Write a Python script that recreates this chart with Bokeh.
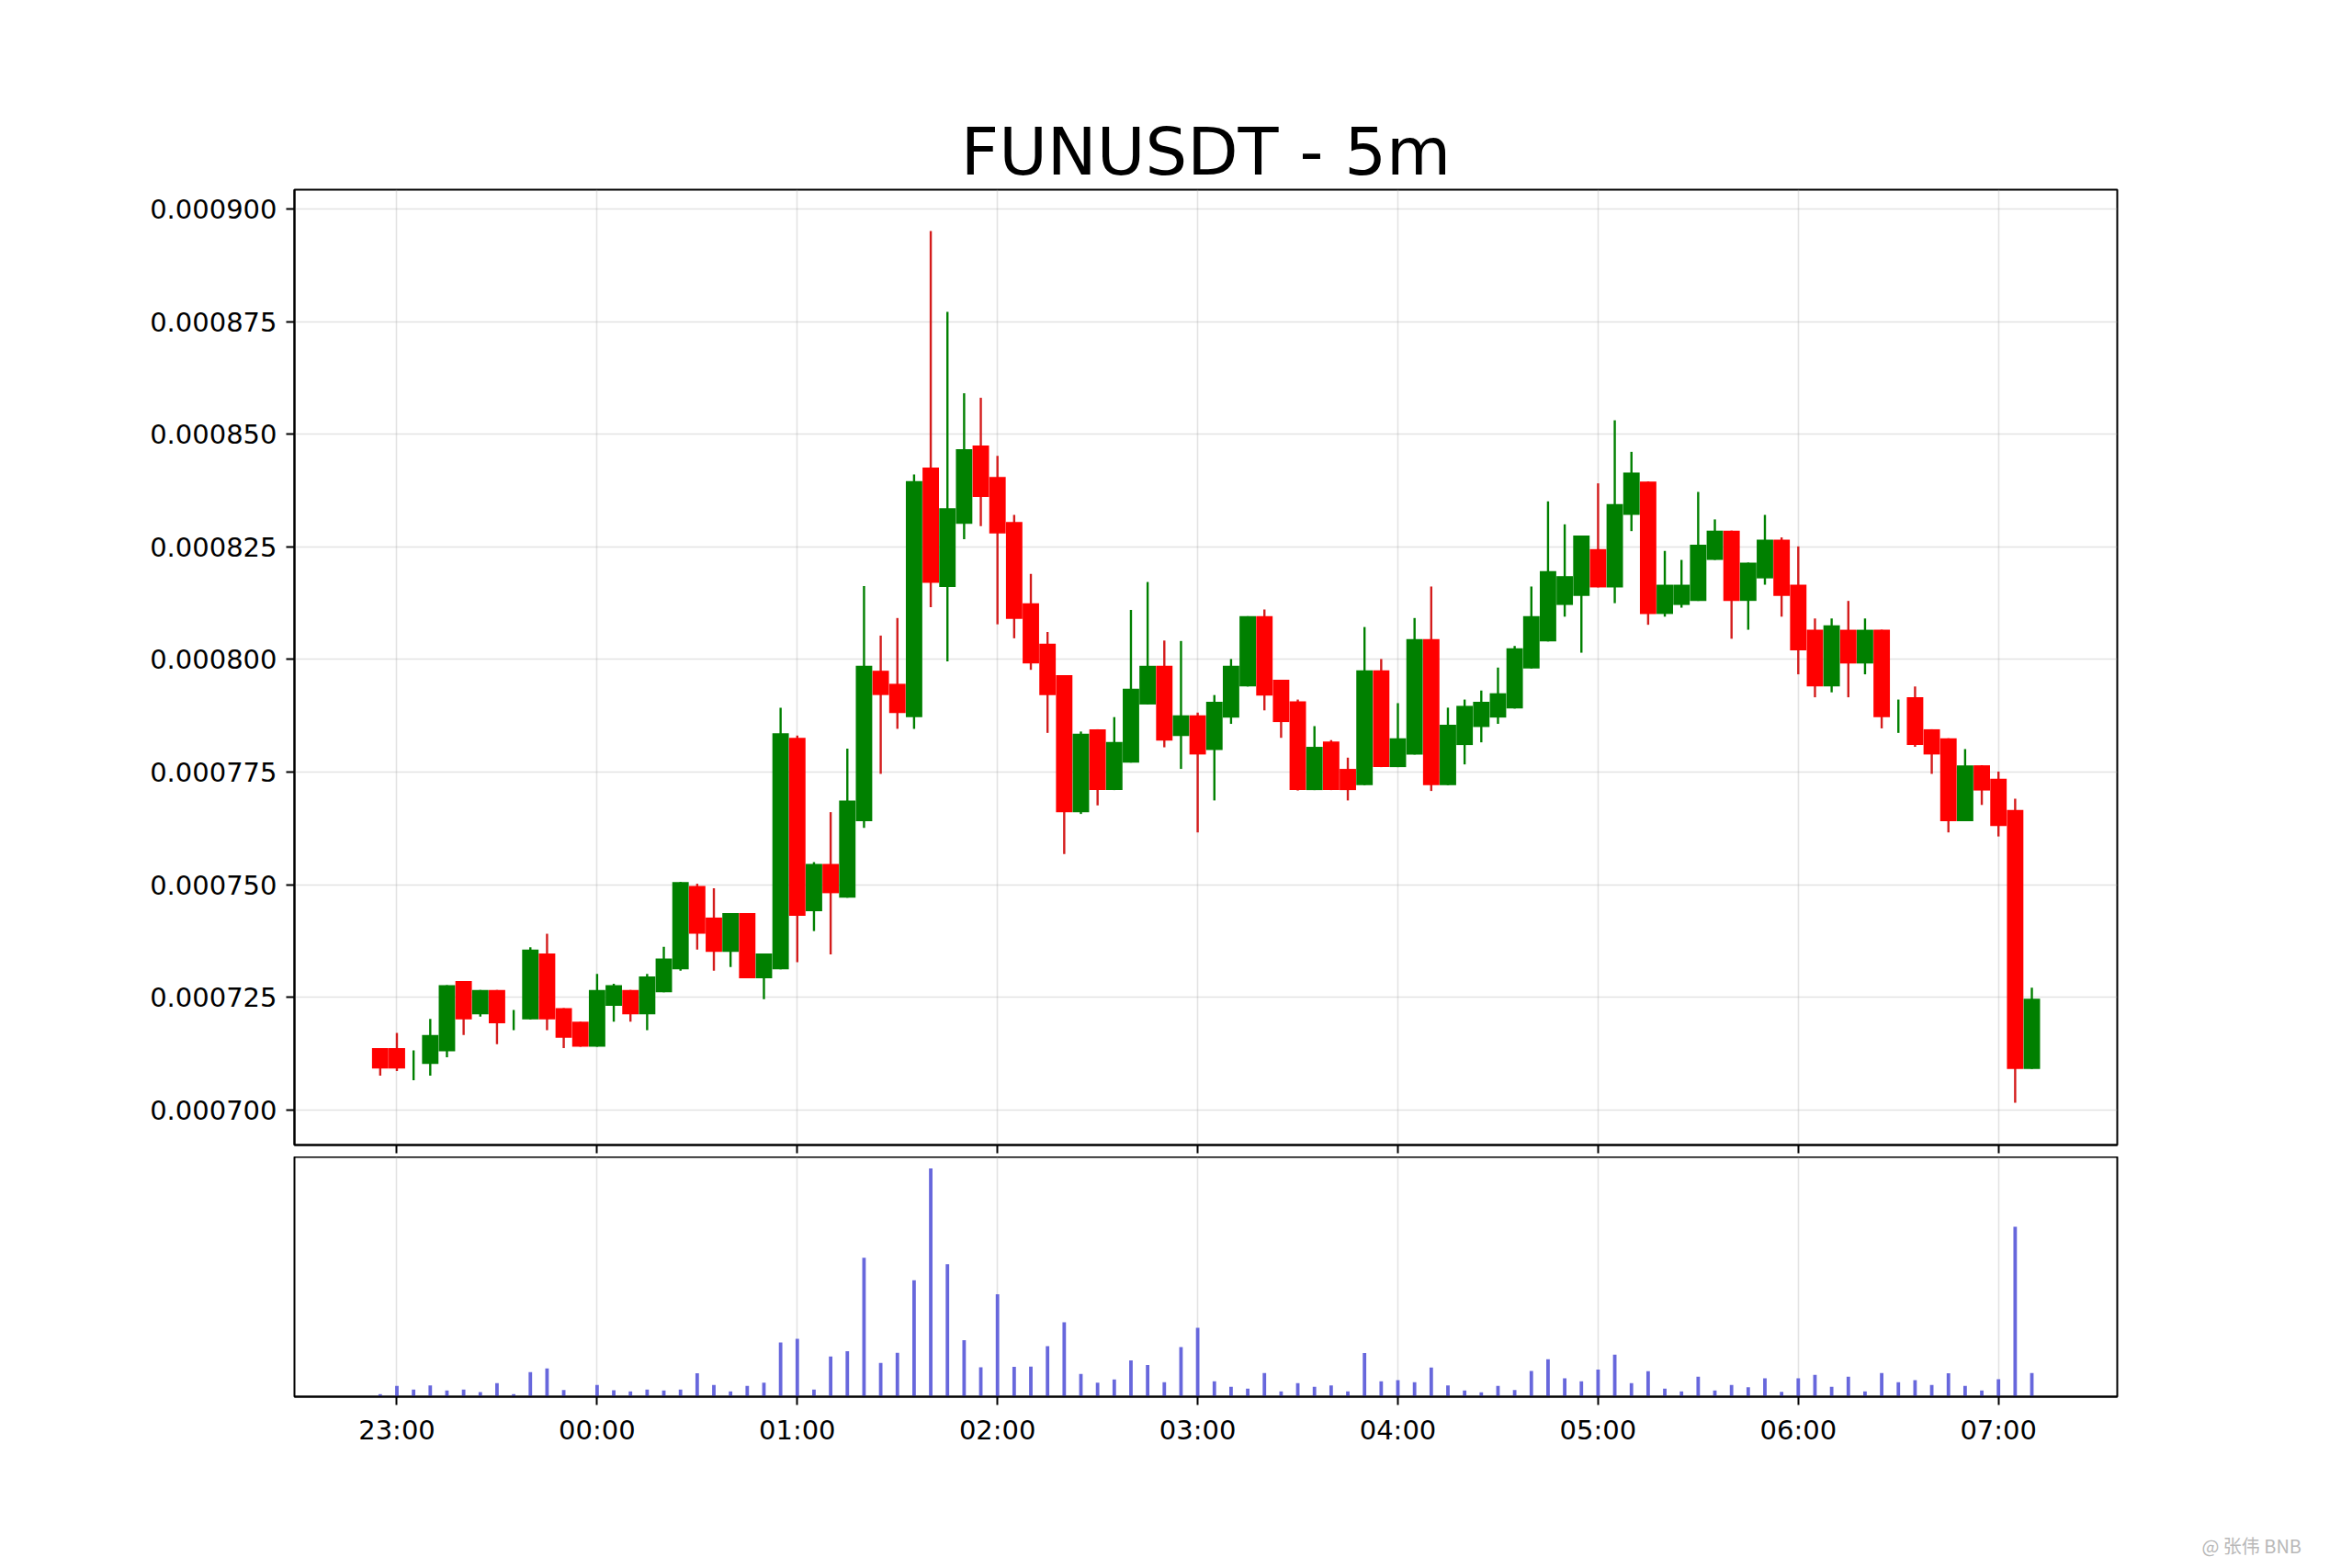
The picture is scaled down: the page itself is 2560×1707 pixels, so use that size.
import pandas as pd
from bokeh.plotting import figure
from bokeh.layouts import column
from bokeh.models import (Range1d, FixedTicker, PrintfTickFormatter,
                          DatetimeTickFormatter, ColumnDataSource, Div)
from bokeh.embed import file_html
from bokeh.resources import INLINE

# ---------------- data ----------------
title_text = "FUNUSDT - 5m"
first_candle = "2024-01-01 22:55"
hour_labels = ["23:00", "00:00", "01:00", "02:00", "03:00",
               "04:00", "05:00", "06:00", "07:00"]
price_ticks = [0.000700, 0.000725, 0.000750, 0.000775, 0.000800,
               0.000825, 0.000850, 0.000875, 0.000900]

opens = [0.0007137, 0.0007137, 0.0007095, 0.0007102, 0.0007130, 0.0007286, 0.0007212, 0.0007266, 0.0007200, 0.0007201,
         0.0007347, 0.0007226, 0.0007196, 0.0007140, 0.0007231, 0.0007266, 0.0007212, 0.0007261, 0.0007312, 0.0007497,
         0.0007427, 0.0007351, 0.0007437, 0.0007292, 0.0007312, 0.0007826, 0.0007441, 0.0007546, 0.0007471, 0.0007641,
         0.0007975, 0.0007946, 0.0007872, 0.0008426, 0.0008161, 0.0008301, 0.0008475, 0.0008405, 0.0008305, 0.0008125,
         0.0008035, 0.0007965, 0.0007661, 0.0007845, 0.0007710, 0.0007771, 0.0007900, 0.0007986, 0.0007830, 0.0007876,
         0.0007799, 0.0007871, 0.0007940, 0.0008096, 0.0007955, 0.0007907, 0.0007710, 0.0007818, 0.0007757, 0.0007721,
         0.0007976, 0.0007761, 0.0007789, 0.0008045, 0.0007721, 0.0007810, 0.0007850, 0.0007871, 0.0007891, 0.0007980,
         0.0008040, 0.0008121, 0.0008141, 0.0008245, 0.0008160, 0.0008321, 0.0008395, 0.0008101, 0.0008121, 0.0008130,
         0.0008221, 0.0008286, 0.0008130, 0.0008180, 0.0008266, 0.0008166, 0.0008066, 0.0007940, 0.0008066, 0.0007991,
         0.0008066, 0.0007874, 0.0007916, 0.0007845, 0.0007825, 0.0007641, 0.0007765, 0.0007735, 0.0007666, 0.0007091]
highs = [0.0007137, 0.0007171, 0.0007132, 0.0007202, 0.0007277, 0.0007286, 0.0007266, 0.0007266, 0.0007222, 0.0007361,
         0.0007391, 0.0007226, 0.0007196, 0.0007302, 0.0007280, 0.0007266, 0.0007302, 0.0007362, 0.0007506, 0.0007502,
         0.0007492, 0.0007437, 0.0007437, 0.0007347, 0.0007893, 0.0007831, 0.0007550, 0.0007661, 0.0007802, 0.0008163,
         0.0008053, 0.0008092, 0.0008411, 0.0008951, 0.0008772, 0.0008591, 0.0008581, 0.0008452, 0.0008321, 0.0008190,
         0.0008061, 0.0007965, 0.0007840, 0.0007845, 0.0007872, 0.0008110, 0.0008172, 0.0008042, 0.0008041, 0.0007882,
         0.0007921, 0.0008001, 0.0008096, 0.0008111, 0.0007955, 0.0007911, 0.0007852, 0.0007821, 0.0007782, 0.0008072,
         0.0008001, 0.0007903, 0.0008092, 0.0008162, 0.0007893, 0.0007911, 0.0007931, 0.0007982, 0.0008030, 0.0008162,
         0.0008351, 0.0008300, 0.0008275, 0.0008391, 0.0008531, 0.0008461, 0.0008395, 0.0008241, 0.0008221, 0.0008372,
         0.0008311, 0.0008286, 0.0008215, 0.0008321, 0.0008271, 0.0008251, 0.0008091, 0.0008091, 0.0008130, 0.0008091,
         0.0008066, 0.0007911, 0.0007940, 0.0007845, 0.0007825, 0.0007801, 0.0007765, 0.0007751, 0.0007691, 0.0007271]
lows = [0.0007076, 0.0007086, 0.0007066, 0.0007076, 0.0007117, 0.0007166, 0.0007207, 0.0007146, 0.0007177, 0.0007201,
        0.0007177, 0.0007137, 0.0007140, 0.0007140, 0.0007196, 0.0007196, 0.0007177, 0.0007261, 0.0007309, 0.0007356,
        0.0007309, 0.0007317, 0.0007292, 0.0007246, 0.0007312, 0.0007328, 0.0007397, 0.0007345, 0.0007471, 0.0007626,
        0.0007746, 0.0007846, 0.0007846, 0.0008116, 0.0007996, 0.0008267, 0.0008296, 0.0008078, 0.0008047, 0.0007977,
        0.0007837, 0.0007568, 0.0007657, 0.0007676, 0.0007710, 0.0007771, 0.0007900, 0.0007805, 0.0007757, 0.0007616,
        0.0007687, 0.0007857, 0.0007940, 0.0007887, 0.0007826, 0.0007709, 0.0007710, 0.0007710, 0.0007687, 0.0007721,
        0.0007761, 0.0007761, 0.0007789, 0.0007708, 0.0007721, 0.0007767, 0.0007816, 0.0007857, 0.0007891, 0.0007980,
        0.0008040, 0.0008095, 0.0008015, 0.0008160, 0.0008125, 0.0008285, 0.0008077, 0.0008095, 0.0008115, 0.0008130,
        0.0008221, 0.0008046, 0.0008066, 0.0008166, 0.0008095, 0.0007967, 0.0007916, 0.0007927, 0.0007916, 0.0007967,
        0.0007847, 0.0007837, 0.0007806, 0.0007746, 0.0007616, 0.0007641, 0.0007677, 0.0007607, 0.0007016, 0.0007091]
closes = [0.0007092, 0.0007092, 0.0007095, 0.0007166, 0.0007277, 0.0007201, 0.0007266, 0.0007192, 0.0007200, 0.0007356,
          0.0007201, 0.0007160, 0.0007140, 0.0007266, 0.0007277, 0.0007212, 0.0007296, 0.0007336, 0.0007506, 0.0007391,
          0.0007351, 0.0007437, 0.0007292, 0.0007347, 0.0007836, 0.0007431, 0.0007546, 0.0007481, 0.0007687, 0.0007986,
          0.0007921, 0.0007881, 0.0008396, 0.0008170, 0.0008336, 0.0008467, 0.0008361, 0.0008280, 0.0008090, 0.0007991,
          0.0007921, 0.0007661, 0.0007835, 0.0007710, 0.0007817, 0.0007935, 0.0007986, 0.0007820, 0.0007876, 0.0007789,
          0.0007906, 0.0007986, 0.0008096, 0.0007920, 0.0007861, 0.0007710, 0.0007806, 0.0007710, 0.0007710, 0.0007976,
          0.0007761, 0.0007825, 0.0008045, 0.0007721, 0.0007855, 0.0007897, 0.0007906, 0.0007925, 0.0008025, 0.0008096,
          0.0008196, 0.0008185, 0.0008275, 0.0008160, 0.0008345, 0.0008415, 0.0008101, 0.0008166, 0.0008166, 0.0008255,
          0.0008286, 0.0008130, 0.0008215, 0.0008266, 0.0008141, 0.0008020, 0.0007940, 0.0008076, 0.0007991, 0.0008066,
          0.0007872, 0.0007874, 0.0007810, 0.0007789, 0.0007641, 0.0007765, 0.0007709, 0.0007630, 0.0007091, 0.0007247]
volumes = [2.7, 11.7, 7.7, 12.3, 6.7, 7.7, 5.0, 14.7, 2.7, 26.7,
           30.7, 7.3, 0.7, 12.7, 7.0, 5.7, 7.7, 6.7, 7.7, 25.3,
           12.7, 5.7, 11.7, 15.3, 58.7, 62.7, 7.7, 43.7, 49.3, 150.7,
           36.7, 47.7, 126.3, 247.7, 143.7, 61.3, 32.0, 111.0, 32.3, 32.7,
           54.7, 80.7, 24.7, 15.3, 18.7, 39.3, 34.3, 15.7, 53.7, 74.7,
           16.7, 10.7, 8.7, 25.7, 5.7, 14.7, 10.7, 12.3, 5.7, 47.3,
           16.7, 18.0, 15.7, 31.7, 12.3, 6.7, 4.7, 11.7, 7.3, 28.0,
           40.7, 20.0, 16.7, 29.3, 45.7, 14.7, 27.7, 8.7, 5.7, 21.7,
           6.7, 12.7, 10.3, 20.0, 5.3, 20.0, 23.7, 10.7, 21.7, 5.7,
           25.7, 15.7, 18.0, 12.7, 25.3, 11.7, 6.7, 19.0, 184.3, 25.7]
watermark_text = "@ 张伟 BNB"

# ---------------- derived columns ----------------
times = pd.date_range(first_candle, periods=len(opens), freq="5min")
up_col, down_col = "#008000", "#ff0000"
body_colors = [up_col if c >= o else down_col for o, c in zip(opens, closes)]
wick_colors = [up_col if c >= o else "#d41c1c" for o, c in zip(opens, closes)]
src = ColumnDataSource(dict(
    t=times, o=opens, h=highs, l=lows, c=closes, v=volumes,
    top=[max(o, c) for o, c in zip(opens, closes)],
    bot=[min(o, c) for o, c in zip(opens, closes)],
    bc=body_colors, wc=wick_colors,
))

day0 = pd.Timestamp(first_candle).normalize()
tick_times = []
for lab in hour_labels:
    hh = int(lab[:2])
    ts = day0 + pd.Timedelta(hours=hh) if hh >= 22 else day0 + pd.Timedelta(days=1, hours=hh)
    tick_times.append(ts)
tick_ms = [ts.value / 1e6 for ts in tick_times]

step = pd.Timedelta(minutes=5)
x_start = tick_times[0] - pd.Timedelta(minutes=30.7)
x_end = tick_times[-1] + pd.Timedelta(minutes=35.6)
x_range = Range1d(x_start, x_end)

FONT = "DejaVu Sans"
FRAME_W = 1984
LEFT, RIGHT = 320, 232
TOTAL_W = LEFT + FRAME_W + RIGHT

# ---------------- price panel ----------------
p1 = figure(x_axis_type="datetime", x_range=x_range,
            y_range=Range1d(0.0006922, 0.0009043),
            frame_width=FRAME_W, frame_height=1040,
            min_border_left=LEFT, min_border_right=RIGHT,
            min_border_top=206, min_border_bottom=13,
            toolbar_location=None, output_backend="svg",
            background_fill_color="white", border_fill_color="white")
p1.title.text = title_text
p1.title.align = "center"
p1.title.text_font = FONT
p1.title.text_font_size = "72px"
p1.title.text_font_style = "normal"
p1.title.text_color = "black"
p1.title.standoff = 0

p1.segment(x0="t", y0="l", x1="t", y1="h", source=src, line_color="wc", line_width=2.4)
p1.vbar(x="t", top="top", bottom="bot", width=step * 0.985, source=src,
        fill_color="bc", line_color=None)

p1.yaxis.ticker = FixedTicker(ticks=price_ticks)
p1.yaxis.formatter = PrintfTickFormatter(format="%.6f")
# hour ticks on the price panel carry no labels: draw them as minor ticks
p1.xaxis.ticker = FixedTicker(ticks=[], minor_ticks=tick_ms)

# ---------------- volume panel ----------------
p2 = figure(x_axis_type="datetime", x_range=x_range,
            y_range=Range1d(0, max(volumes) * 1.05),
            frame_width=FRAME_W, frame_height=261,
            min_border_left=LEFT, min_border_right=RIGHT,
            min_border_top=0, min_border_bottom=140,
            toolbar_location=None, output_backend="svg",
            background_fill_color="white", border_fill_color="white")
p2.vbar(x="t", top="v", bottom=0, width=step * 0.21, source=src,
        fill_color="#6767dc", line_color=None)
p2.yaxis.visible = False
p2.ygrid.visible = False
p2.xaxis.ticker = FixedTicker(ticks=tick_ms)
p2.xaxis.formatter = DatetimeTickFormatter(
    microseconds="%H:%M", milliseconds="%H:%M", seconds="%H:%M", minsec="%H:%M",
    minutes="%H:%M", hourmin="%H:%M", hours="%H:%M", days="%H:%M",
    months="%H:%M", years="%H:%M")

for p in (p1, p2):
    p.outline_line_color = "black"
    p.outline_line_width = 2
    p.outline_line_alpha = 1
    for ax in p.axis:
        ax.axis_line_width = 2
        ax.axis_line_color = "black"
        ax.major_tick_out = 9
        ax.major_tick_in = 0
        ax.major_tick_line_width = 2
        ax.minor_tick_out = 0
        ax.minor_tick_in = 0
        ax.major_label_text_font = FONT
        ax.major_label_text_color = "black"
    for g in p.grid:
        g.grid_line_color = "#b0b0b0"
        g.grid_line_alpha = 0.35
        g.grid_line_width = 1.6

p1.xaxis.minor_tick_out = 9
p1.xaxis.minor_tick_line_width = 2
p1.xaxis.minor_tick_line_color = "black"
p1.xgrid.ticker = FixedTicker(ticks=tick_ms)

for ax in p1.yaxis:
    ax.major_label_text_font_size = "29px"
    ax.major_label_standoff = 10
for ax in p2.xaxis:
    ax.major_label_text_font_size = "29px"
    ax.major_label_standoff = 10

# ---------------- watermark (bottom-right, faint) ----------------
wm = Div(text=('<div style="width:%dpx; box-sizing:border-box; text-align:right; '
               'padding-right:36px; padding-top:6px; color:#b8b8b8; '
               'font-family:\'Noto Sans CJK SC\'; font-size:20px; line-height:24px; '
               'white-space:nowrap;">%s</div>') % (TOTAL_W, watermark_text),
         width=TOTAL_W, height=34)

layout = column(p1, p2, wm, spacing=0)
open("out.html", "w").write(file_html(layout, INLINE))
